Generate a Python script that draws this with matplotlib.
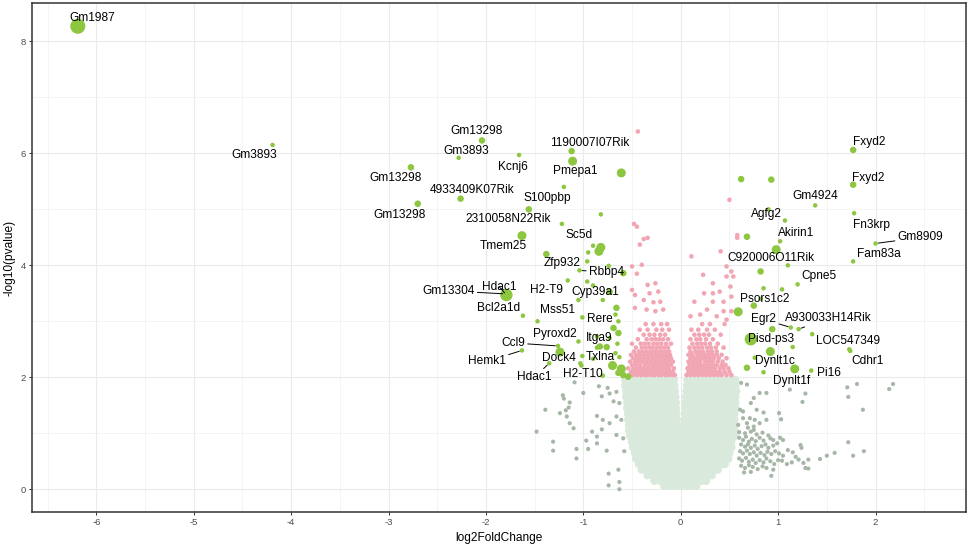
import matplotlib
matplotlib.use("Agg")
import matplotlib.pyplot as plt
import numpy as np

plt.rcParams['font.family'] = ['Liberation Sans', 'DejaVu Sans']
plt.rcParams['axes.unicode_minus'] = False

# --- significant genes with a label: name, log2FC, -log10(p), size level
lab_gene = ['Gm1987', 'Gm3893', 'Gm13298', 'Gm13298', '4933409K07Rik', 'Gm3893', 'Gm13298',
            'Kcnj6', '1190007I07Rik', 'Pmepa1', 'S100pbp', '2310058N22Rik', 'Sc5d', 'Tmem25',
            'Zfp932', 'Rbbp4', 'Hdac1', 'Gm13304', 'Bcl2a1d', 'H2-T9', 'Cyp39a1', 'Mss51',
            'Rere', 'Pyroxd2', 'Itga9', 'Ccl9', 'Dock4', 'Hemk1', 'Txlna', 'Hdac1', 'H2-T10',
            'Fxyd2', 'Fxyd2', 'Gm4924', 'Agfg2', 'Fn3krp', 'Akirin1', 'Gm8909', 'Fam83a',
            'C920006O11Rik', 'Cpne5', 'Psors1c2', 'Egr2', 'A930033H14Rik', 'Pisd-ps3',
            'LOC547349', 'Cdhr1', 'Dynlt1c', 'Dynlt1f', 'Pi16']
lab_x = [-6.19, -4.19, -2.77, -2.70, -2.26, -2.28, -2.04,
         -1.66, -1.12, -1.11, -1.20, -1.56, -1.22, -1.63,
         -1.38, -1.04, -1.79, -1.80, -1.62, -1.16, -1.05, -1.47,
         -1.01, -1.05, -0.86, -1.26, -1.24, -1.63, -1.01, -1.35, -1.03,
         1.77, 1.77, 1.38, 1.07, 1.78, 1.02, 2.00, 1.77,
         1.10, 1.20, 0.75, 1.13, 1.21, 0.72,
         1.73, 1.74, 0.76, 1.17, 1.34]
lab_y = [8.27, 6.15, 5.75, 5.10, 5.19, 5.92, 6.23,
         5.97, 6.04, 5.86, 5.40, 5.00, 4.74, 4.53,
         4.20, 3.91, 3.47, 3.49, 3.10, 3.73, 3.38, 3.00,
         3.07, 2.64, 2.53, 2.56, 2.45, 2.48, 2.38, 2.25, 2.25,
         6.06, 5.44, 5.07, 4.80, 4.93, 4.43, 4.39, 4.07,
         4.00, 3.66, 3.28, 2.89, 2.86, 2.68,
         2.50, 2.47, 2.35, 2.15, 2.12]
lab_level = [5, 1, 2, 2, 2, 1, 2,
             1, 2, 3, 1, 2, 1, 3,
             2, 1, 4, 1, 1, 1, 1, 1,
             1, 1, 1, 1, 3, 1, 1, 1, 1,
             2, 2, 1, 1, 1, 1, 1, 1,
             1, 1, 2, 1, 1, 4,
             1, 1, 1, 3, 1]

# --- other significant genes (green, no label)
ug_x = [-0.61, -0.82, -0.82, -0.84, -0.90, -0.95, -0.74, -0.96, -0.59, -0.96, -0.90, -0.73,
        -0.80, -0.66, -0.67, -0.64, -0.69, -0.64, -0.86, -0.73, -0.76, -0.83, -0.65, -0.67,
        -0.63, -0.70, -0.61, -0.80, -0.64, -0.59, -0.54, -1.02, -0.90,
        0.62, 0.93, 0.68, 0.98, 0.82, 0.85, 1.04, 0.59, 0.94, 1.35, 1.15, 0.92, 0.68, 0.85,
        0.90, 0.82]
ug_y = [5.65, 4.91, 4.32, 4.25, 4.35, 4.23, 3.99, 4.07, 3.86, 3.71, 3.64, 3.53,
        3.38, 3.24, 3.12, 3.00, 2.88, 2.79, 2.73, 2.70, 2.54, 2.55, 2.60, 2.43,
        2.36, 2.21, 2.15, 2.03, 2.08, 2.04, 2.01, 2.21, 2.33,
        5.54, 5.53, 4.51, 4.28, 3.89, 3.59, 3.57, 3.17, 2.86, 2.77, 2.54, 2.46, 2.17, 2.09,
        5.00, 3.40]
ug_level = [3, 1, 3, 3, 1, 1, 1, 1, 2, 1, 1, 2,
            1, 2, 1, 1, 2, 2, 1, 1, 2, 2, 1, 1,
            1, 3, 3, 1, 2, 2, 2, 1, 1,
            2, 2, 2, 3, 2, 1, 1, 3, 2, 1, 1, 3, 2, 1,
            1, 1]

# --- large fold change but p > 0.01 (grey)
grey_x = [-1.09, -0.84, -0.75, -1.00, -1.21, -0.81, -0.73, -0.66, -0.69, -1.14, -0.63, -1.39,
          -1.24, -1.18, -1.17, -0.86, -0.80, -0.66, -0.73, -0.61, -1.14, -1.10, -1.48, -0.91,
          -0.81, -0.66, -0.59, -0.86, -0.97, -1.31, -0.86, -1.07, -0.95, -0.76, -0.58, -0.64,
          -0.74, -1.20, -1.15, -1.07, -1.31, -0.74, -0.63, -0.63,
          0.62, 0.68, 0.81, 0.88, 1.12, 1.28, 1.71, 1.81, 2.18, 2.14, 1.72, 0.75, 0.72, 1.25,
          1.87, 0.61, 0.64, 1.01, 1.03, 0.78, 0.85, 0.71, 0.76, 0.68, 0.59, 0.81, 0.88, 0.75,
          0.92, 1.05, 1.23, 1.24, 1.72, 1.88, 1.77, 1.58, 1.50, 1.43, 1.31, 1.26, 1.21, 1.14,
          1.09, 1.04, 0.95, 0.93, 1.28, 1.31,
          0.60, 0.64, 0.67, 0.70, 0.73, 0.77, 0.81, 0.85, 0.62, 0.66, 0.69, 0.72, 0.76, 0.79,
          0.83, 0.87, 0.90, 0.95, 0.99, 0.61, 0.64, 0.68, 0.71, 0.75, 0.78, 0.82, 0.86, 0.89,
          0.93, 0.97, 1.01, 1.05, 0.60, 0.63, 0.67, 0.70, 0.74, 0.77, 0.81, 0.85, 0.88, 0.92,
          0.96, 1.00, 0.62, 0.66, 0.70, 0.74, 0.79, 0.84, 0.88, 0.65, 0.72, 0.60, 0.66, 0.72,
          0.78, 0.84, 0.90, 1.10, 1.15, 1.18, 0.95, 1.02, 0.69, 0.75, 0.64]
grey_y = [1.91, 1.84, 1.81, 1.72, 1.68, 1.66, 1.71, 1.74, 1.57, 1.55, 1.54, 1.42,
          1.36, 1.41, 1.30, 1.31, 1.24, 1.30, 1.18, 1.24, 1.18, 1.09, 1.03, 1.03,
          1.07, 0.97, 0.91, 0.94, 0.87, 0.85, 0.82, 0.72, 0.72, 0.69, 0.68, 0.35,
          0.28, 1.62, 1.46, 0.55, 0.69, 0.07, 0.00, 0.13,
          1.90, 1.87, 1.72, 1.72, 1.78, 1.71, 1.82, 1.88, 1.88, 1.79, 1.65, 1.63, 1.54, 1.56,
          1.42, 1.42, 1.39, 1.36, 1.25, 1.42, 1.37, 1.27, 1.24, 1.18, 1.15, 1.18, 1.24, 1.06,
          0.91, 0.88, 0.79, 0.74, 0.84, 0.68, 0.60, 0.65, 0.60, 0.54, 0.53, 0.47, 0.53, 0.48,
          0.45, 0.51, 0.35, 0.24, 0.38, 0.37,
          0.92, 0.88, 0.94, 0.85, 0.90, 0.86, 0.92, 0.87, 0.80, 0.76, 0.80, 0.74, 0.78, 0.72,
          0.77, 0.80, 0.74, 0.78, 0.82, 0.68, 0.64, 0.69, 0.63, 0.66, 0.60, 0.65, 0.61, 0.67,
          0.63, 0.68, 0.64, 0.60, 0.55, 0.51, 0.56, 0.49, 0.53, 0.47, 0.52, 0.48, 0.55, 0.50,
          0.45, 0.52, 0.42, 0.38, 0.43, 0.40, 0.36, 0.41, 0.38, 0.30, 0.31, 1.02, 1.00, 1.03,
          0.98, 1.01, 0.96, 0.70, 0.66, 0.58, 0.88, 0.92, 1.10, 1.12, 1.27]

# --- small fold change but p < 0.01 (pink): sparse points
pink_x = [-0.44, 0.50, -0.48, -0.45, -0.38, -0.34, -0.42, 0.11, 0.41, 0.58, 0.58, -0.50,
          -0.40, -0.45, 0.23, 0.47, 0.52, 0.47, 0.33, 0.54, -0.34, -0.26, -0.50, -0.47,
          -0.32, -0.23, -0.38, -0.28, -0.21, 0.14, 0.24, 0.33, 0.40, 0.51, 0.52, 0.33,
          0.44, -0.47, -0.35, -0.26, -0.18, 0.27, 0.44, 0.52, 0.10, 0.20, 0.37, 0.47]
pink_y = [6.39, 5.17, 4.74, 4.69, 4.47, 4.49, 4.37, 4.16, 4.25, 4.54, 4.49, 3.98,
          4.01, 3.85, 3.83, 3.98, 3.89, 3.80, 3.68, 3.80, 3.65, 3.68, 3.56, 3.47,
          3.50, 3.53, 3.38, 3.34, 3.35, 3.35, 3.50, 3.50, 3.53, 3.62, 3.44, 3.35,
          3.35, 3.24, 3.21, 3.18, 3.21, 3.21, 3.18, 3.18, 3.09, 3.12, 3.09, 3.03]

# pink: dense band just above p = 0.01, row by row
pink_row_y = [2.04, 2.10, 2.16, 2.22, 2.28, 2.34, 2.40, 2.46, 2.53, 2.60, 2.68, 2.76, 2.85, 2.95]
pink_row_x = [
    [-0.53, -0.49, -0.45, -0.41, -0.37, -0.34, -0.30, -0.27, -0.23, -0.20, -0.16, -0.13, -0.09, -0.06,
     0.06, 0.10, 0.14, 0.18, 0.22, 0.26, 0.30, 0.34, 0.38, 0.42, 0.47, 0.52],
    [-0.51, -0.47, -0.43, -0.39, -0.35, -0.32, -0.28, -0.25, -0.21, -0.18, -0.14, -0.11, -0.08,
     0.08, 0.12, 0.16, 0.20, 0.24, 0.28, 0.32, 0.36, 0.40, 0.45, 0.50],
    [-0.54, -0.49, -0.45, -0.41, -0.38, -0.34, -0.30, -0.27, -0.23, -0.19, -0.16, -0.12, -0.07,
     0.07, 0.11, 0.15, 0.19, 0.23, 0.27, 0.31, 0.35, 0.40, 0.44, 0.49],
    [-0.50, -0.46, -0.42, -0.37, -0.33, -0.29, -0.26, -0.22, -0.18, -0.14, -0.10,
     0.09, 0.13, 0.17, 0.21, 0.25, 0.29, 0.33, 0.37, 0.42, 0.46],
    [-0.52, -0.47, -0.43, -0.39, -0.35, -0.31, -0.27, -0.24, -0.20, -0.16, -0.12, -0.08,
     0.08, 0.12, 0.16, 0.20, 0.25, 0.29, 0.33, 0.38, 0.43],
    [-0.49, -0.45, -0.41, -0.37, -0.33, -0.29, -0.25, -0.21, -0.17, -0.13, -0.10,
     0.10, 0.14, 0.18, 0.22, 0.26, 0.30, 0.34, 0.39, 0.47],
    [-0.51, -0.46, -0.42, -0.38, -0.34, -0.30, -0.26, -0.23, -0.19, -0.15, -0.11,
     0.08, 0.12, 0.17, 0.21, 0.25, 0.29, 0.33, 0.37, 0.42],
    [-0.48, -0.43, -0.39, -0.35, -0.31, -0.27, -0.24, -0.20, -0.16, -0.12,
     0.10, 0.15, 0.19, 0.23, 0.28, 0.32, 0.37],
    [-0.46, -0.40, -0.36, -0.32, -0.29, -0.25, -0.21, -0.17, -0.13,
     0.09, 0.14, 0.18, 0.22, 0.27, 0.31, 0.36, 0.44],
    [-0.50, -0.41, -0.37, -0.33, -0.28, -0.24, -0.20, -0.15, -0.10,
     0.12, 0.17, 0.21, 0.25, 0.30, 0.38],
    [-0.44, -0.35, -0.30, -0.26, -0.22, -0.18, -0.13,
     0.10, 0.16, 0.20, 0.26, 0.33],
    [-0.38, -0.32, -0.27, -0.21, -0.16,
     0.14, 0.19, 0.24, 0.29, 0.41],
    [-0.42, -0.34, -0.25, -0.19, -0.12,
     0.11, 0.18, 0.27, 0.35],
    [-0.36, -0.28, -0.20, -0.14,
     0.22, 0.30, 0.45],
]

# --- not significant (mint cloud), row by row
mint_row_y = [1.95, 1.85, 1.75, 1.65, 1.55, 1.45, 1.35, 1.25, 1.15, 1.05, 0.95, 0.85, 0.75,
              0.65, 0.55, 0.45, 0.35, 0.25, 0.15, 0.06]
mint_row_x = [
    [-0.57, -0.51, -0.45, -0.39, -0.33, -0.27, -0.21, -0.15, -0.11, -0.07,
     0.07, 0.12, 0.18, 0.24, 0.30, 0.36, 0.42, 0.48, 0.53, 0.56],
    [-0.57, -0.51, -0.45, -0.39, -0.33, -0.27, -0.21, -0.15, -0.11, -0.065,
     0.065, 0.12, 0.18, 0.24, 0.30, 0.36, 0.42, 0.48, 0.53, 0.56],
    [-0.56, -0.50, -0.44, -0.38, -0.32, -0.26, -0.20, -0.14, -0.10, -0.06,
     0.06, 0.11, 0.17, 0.23, 0.29, 0.35, 0.41, 0.47, 0.53, 0.57],
    [-0.56, -0.50, -0.44, -0.38, -0.32, -0.26, -0.20, -0.14, -0.10, -0.055,
     0.055, 0.11, 0.17, 0.23, 0.29, 0.35, 0.41, 0.47, 0.52, 0.56],
    [-0.55, -0.49, -0.43, -0.37, -0.31, -0.25, -0.19, -0.13, -0.09, -0.05,
     0.05, 0.10, 0.16, 0.22, 0.28, 0.34, 0.40, 0.46, 0.52, 0.56],
    [-0.55, -0.49, -0.43, -0.37, -0.31, -0.25, -0.19, -0.13, -0.09, -0.048,
     0.048, 0.10, 0.16, 0.22, 0.28, 0.34, 0.40, 0.46, 0.52, 0.56],
    [-0.54, -0.48, -0.42, -0.36, -0.30, -0.24, -0.18, -0.12, -0.08, -0.045,
     0.045, 0.10, 0.16, 0.22, 0.28, 0.34, 0.40, 0.46, 0.51, 0.55],
    [-0.54, -0.48, -0.42, -0.36, -0.30, -0.24, -0.18, -0.12, -0.07, -0.04,
     0.04, 0.09, 0.15, 0.21, 0.27, 0.33, 0.39, 0.45, 0.51, 0.55],
    [-0.53, -0.47, -0.41, -0.35, -0.29, -0.23, -0.17, -0.11, -0.07, -0.036,
     0.036, 0.08, 0.13, 0.19, 0.25, 0.31, 0.37, 0.43, 0.49, 0.55],
    [-0.53, -0.47, -0.41, -0.35, -0.29, -0.23, -0.17, -0.11, -0.05, 0.01,
     0.07, 0.13, 0.19, 0.25, 0.31, 0.37, 0.43, 0.49, 0.55],
    [-0.52, -0.46, -0.40, -0.34, -0.28, -0.22, -0.16, -0.10, -0.04, 0.02,
     0.08, 0.14, 0.20, 0.26, 0.32, 0.38, 0.44, 0.50, 0.55],
    [-0.50, -0.44, -0.38, -0.32, -0.26, -0.20, -0.14, -0.08, -0.02, 0.04,
     0.10, 0.16, 0.22, 0.28, 0.34, 0.40, 0.46, 0.52],
    [-0.49, -0.43, -0.37, -0.31, -0.25, -0.19, -0.13, -0.07, -0.01, 0.05,
     0.11, 0.17, 0.23, 0.29, 0.35, 0.41, 0.47, 0.52],
    [-0.47, -0.41, -0.35, -0.29, -0.23, -0.17, -0.11, -0.05, 0.01, 0.07,
     0.13, 0.19, 0.25, 0.31, 0.37, 0.43, 0.50],
    [-0.46, -0.40, -0.34, -0.28, -0.22, -0.16, -0.10, -0.04, 0.02, 0.08,
     0.14, 0.20, 0.26, 0.32, 0.38, 0.44, 0.49],
    [-0.43, -0.37, -0.31, -0.25, -0.19, -0.13, -0.07, -0.01, 0.05,
     0.11, 0.17, 0.23, 0.29, 0.35, 0.41, 0.45],
    [-0.40, -0.34, -0.28, -0.22, -0.16, -0.10, -0.04, 0.02,
     0.08, 0.14, 0.20, 0.26, 0.32, 0.38],
    [-0.34, -0.28, -0.22, -0.16, -0.10, -0.04, 0.02,
     0.08, 0.14, 0.20, 0.26, 0.32],
    [-0.27, -0.21, -0.15, -0.09, -0.03, 0.03, 0.09, 0.15, 0.21, 0.26],
    [-0.17, -0.11, -0.05, 0.01, 0.07, 0.13, 0.16],
]

x_ticks = [-6, -5, -4, -3, -2, -1, 0, 1, 2]
y_ticks = [0, 2, 4, 6, 8]

# label placement (pixels from the point, screen y downwards) and connector flag
lab_off = [(14, -8), (-18, 10), (-15, 11), (-18, 11), (12, -9), (8, -7), (-5, -9),
           (-6, 12), (18, -8), (3, 10), (-17, 11), (-21, 10), (17, 11), (-19, 10),
           (16, 9), (27, 2), (-7, -8), (-57, -3), (-24, -8), (-21, 10), (17, -8), (20, -11),
           (18, 2), (-24, -7), (2, -10), (-45, -3), (-1, 6), (-35, 11), (18, 1), (-15, 14), (2, 11),
           (16, -8), (15, -7), (0, -9), (-18, -7), (17, 12), (16, -8), (45, -6), (26, -7),
           (-17, -7), (21, -8), (11, -7), (-27, -8), (30, -11), (20, 0),
           (-1, -8), (17, 10), (20, 3), (-3, 12), (18, 2)]
lab_seg = {'Rbbp4', 'Gm13304', 'Ccl9', 'Hemk1', 'Egr2', 'A930033H14Rik', 'Gm8909'}
seg_idx = {16, 29}  # the two Hdac1 labels also have a connector

size_map = {1: 10.5, 2: 22, 3: 42, 4: 80, 5: 118}
col_green = '#8DC63F'
col_pink = '#F2A6B4'
col_mint = '#D9EADC'
col_grey = '#A7B7A7'

fig = plt.figure(figsize=(9.7, 5.47), dpi=100)
ax = fig.add_axes([0.033, 0.0646, 0.963, 0.9294])

mx = [x for xs in mint_row_x for x in xs]
my = [y for y, xs in zip(mint_row_y, mint_row_x) for _ in xs]
ax.scatter(mx, my, s=36, color=col_mint, edgecolors='none', zorder=2)

ax.scatter(grey_x, grey_y, s=9, color=col_grey, edgecolors='none', zorder=3)

px = pink_x + [x for xs in pink_row_x for x in xs]
py = pink_y + [y for y, xs in zip(pink_row_y, pink_row_x) for _ in xs]
ax.scatter(px, py, s=11, color=col_pink, edgecolors='none', zorder=3)

ax.scatter(ug_x, ug_y, s=[size_map[l] for l in ug_level], color=col_green,
           edgecolors='none', zorder=4)
ax.scatter(lab_x, lab_y, s=[size_map[l] for l in lab_level], color=col_green,
           edgecolors='none', zorder=4)

for i, g in enumerate(lab_gene):
    dx, dy = lab_off[i]
    kw = {}
    if g in lab_seg or i in seg_idx:
        kw['arrowprops'] = dict(arrowstyle='-', color='black', lw=0.7, shrinkA=0, shrinkB=2)
    ax.annotate(g, (lab_x[i], lab_y[i]), xytext=(dx, -dy), textcoords='offset pixels',
                ha='center', va='center', fontsize=8.6, color='black', zorder=6, **kw)

ax.set_xlim(-6.66, 2.93)
ax.set_ylim(-0.40, 8.68)
ax.set_xticks(x_ticks)
ax.set_xticklabels([str(t) for t in x_ticks])
ax.set_xticks(np.arange(-6.5, 3.0, 1.0), minor=True)
ax.set_yticks(y_ticks)
ax.set_yticklabels([str(t) for t in y_ticks])
ax.set_yticks([1, 3, 5, 7], minor=True)

ax.grid(which='major', color='#EBEBEB', lw=0.8)
ax.grid(which='minor', color='#F2F2F2', lw=0.6)
ax.set_axisbelow(True)
ax.tick_params(which='major', length=2.5, width=0.7, color='#333333', labelsize=6.8,
               labelcolor='#4D4D4D', pad=2)
ax.tick_params(which='minor', length=0)
for sp in ax.spines.values():
    sp.set_color('#333333')
    sp.set_linewidth(1.1)

ax.set_xlabel('log2FoldChange', fontsize=8.6)
ax.set_ylabel('-log10(pvalue)', fontsize=8.6, va='center')
ax.xaxis.set_label_coords(0.5, -0.040)
ax.yaxis.set_label_coords(-0.0236, 0.5)

fig.savefig('out.png', dpi=100)
